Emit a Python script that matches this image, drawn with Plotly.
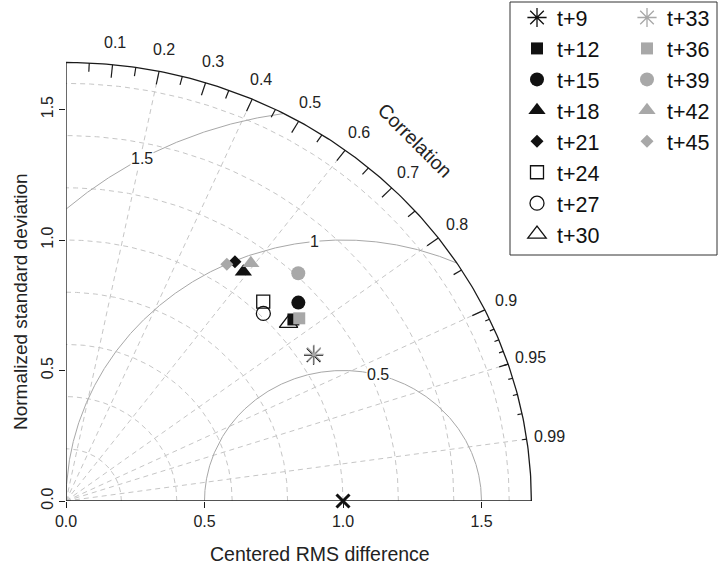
import numpy as np
import plotly.graph_objects as go

# ---------------- data ----------------
labels = ["t+9", "t+12", "t+15", "t+18", "t+21", "t+24", "t+27", "t+30",
          "t+33", "t+36", "t+39", "t+42", "t+45"]
std_dev = [1.054, 1.076, 1.132, 1.087, 1.101, 1.044, 1.012, 1.053,
           1.057, 1.095, 1.210, 1.129, 1.077]
correlation = [0.848, 0.763, 0.741, 0.589, 0.554, 0.682, 0.704, 0.763,
               0.847, 0.769, 0.693, 0.591, 0.539]
symbols = ["asterisk-open", "square", "circle", "triangle-up", "diamond",
           "square-open", "circle-open", "triangle-up-open",
           "asterisk-open", "square", "circle", "triangle-up", "diamond"]
sizes = [16, 12, 14, 15, 10, 13, 14, 16, 16, 12, 14, 15, 10]
colors = ["#111111"] * 8 + ["#a8a8a8"] * 5

ref_sd = 1.0
max_ray = 1.68
sd_arcs = [0.2, 0.4, 0.6, 0.8, 1.0, 1.2, 1.4, 1.6]
corr_lines = [0.2, 0.4, 0.6, 0.8, 0.9, 0.95, 0.99]
gamma_vals = [0.5, 1.0, 1.5]
gamma_text = ["0.5", "1", "1.5"]
gamma_label_deg = [75.5, 96.0, 119.0]
corr_label_vals = [0.1, 0.2, 0.3, 0.4, 0.5, 0.6, 0.7, 0.8, 0.9, 0.95, 0.99]
corr_label_text = ["0.1", "0.2", "0.3", "0.4", "0.5", "0.6", "0.7", "0.8", "0.9", "0.95", "0.99"]
axis_ticks = [0.0, 0.5, 1.0, 1.5]
axis_tick_text = ["0.0", "0.5", "1.0", "1.5"]

# ---------------- geometry ----------------
W, H = 720, 568
ML, MR, MT, MB = 66, 170, 44, 67
PW, PH = W - ML - MR, H - MT - MB
XS, YS = 277.0, 261.0   # px per unit
xr = PW / XS
yr = PH / YS

def px(xd):
    return xd * XS / PW

def py(yd):
    return yd * YS / PH

FONT = "Liberation Sans, Arial, Helvetica, sans-serif"
fig = go.Figure()

def add_line(xs, ys, color, width, dash="solid"):
    fig.add_trace(go.Scatter(x=xs, y=ys, mode="lines", showlegend=False,
                             hoverinfo="skip",
                             line=dict(color=color, width=width, dash=dash)))

# sd arcs (dashed)
t = np.linspace(0, np.pi / 2, 200)
xs, ys = [], []
for r in sd_arcs:
    xs += list(r * np.cos(t)) + [None]
    ys += list(r * np.sin(t)) + [None]
add_line(xs, ys, "#c6c6c6", 1, "5px,4px")

# correlation radial lines (dashed)
xs, ys = [], []
for c in corr_lines:
    a = np.arccos(c)
    xs += [0, max_ray * np.cos(a), None]
    ys += [0, max_ray * np.sin(a), None]
add_line(xs, ys, "#c6c6c6", 1, "5px,4px")

# gamma (centered RMS) arcs
tt = np.linspace(0, np.pi, 2000)
xs, ys = [], []
for g in gamma_vals:
    gx = ref_sd + g * np.cos(tt)
    gy = g * np.sin(tt)
    ok = (gx >= 0) & (gx ** 2 + gy ** 2 <= max_ray ** 2)
    xs += [float(v) if k else None for v, k in zip(gx, ok)] + [None]
    ys += [float(v) if k else None for v, k in zip(gy, ok)] + [None]
add_line(xs, ys, "#a8a8a8", 1)

# outer arc
add_line(list(max_ray * np.cos(t)), list(max_ray * np.sin(t)), "#1a1a1a", 1.3)
# axes lines
add_line([0, max_ray], [0, 0], "#1a1a1a", 1.3)
add_line([0, 0], [0, max_ray], "#1a1a1a", 1.3)

# correlation ticks on outer arc
xs, ys = [], []
for vals, frac in [(np.arange(1, 10) / 10, 0.97),
                   (np.arange(0.05, 1.0, 0.1), 0.98),
                   (np.arange(91, 100) / 100, 0.99)]:
    for c in vals:
        a = np.arccos(c)
        xs += [max_ray * np.cos(a), frac * max_ray * np.cos(a), None]
        ys += [max_ray * np.sin(a), frac * max_ray * np.sin(a), None]
add_line(xs, ys, "#1a1a1a", 1.2)

# reference point
fig.add_trace(go.Scatter(x=[ref_sd], y=[0], mode="markers", showlegend=False,
                         hoverinfo="skip", cliponaxis=False,
                         marker=dict(symbol="x-thin-open", size=13, color="#111111",
                                     line=dict(color="#111111", width=3))))

# model points
for i, lab in enumerate(labels):
    a = np.arccos(correlation[i])
    x = std_dev[i] * np.cos(a)
    y = std_dev[i] * np.sin(a)
    sym = symbols[i]
    openish = sym.endswith("open")
    mk = dict(symbol=sym, size=sizes[i], color=colors[i],
              line=dict(color=colors[i], width=1.3 if openish else 0))
    fig.add_trace(go.Scatter(x=[x], y=[y], mode="markers", name=lab,
                             marker=mk, cliponaxis=False,
                             legend="legend" if i < 8 else "legend2"))

# annotations
ann = []
base = dict(showarrow=False, xanchor="center", yanchor="middle")
for v, s in zip(corr_label_vals, corr_label_text):
    a = np.arccos(v)
    ann.append(dict(x=px(1.05 * max_ray * np.cos(a)), y=py(1.05 * max_ray * np.sin(a)),
                    text=s, xref="paper", yref="paper",
                    font=dict(size=16, color="#222", family=FONT), **base))
for g, s, d in zip(gamma_vals, gamma_text, gamma_label_deg):
    a = np.deg2rad(d)
    ann.append(dict(x=px(ref_sd + g * np.cos(a)), y=py(g * np.sin(a)), text=s,
                    xref="paper", yref="paper", bgcolor="white", borderpad=0,
                    font=dict(size=16, color="#222", family=FONT), **base))
ann.append(dict(x=px(1.26), y=py(1.385), text="Correlation", textangle=45,
                xref="paper", yref="paper",
                font=dict(size=19.5, color="#222", family=FONT), **base))
ann.append(dict(x=(320 - ML) / PW, y=(H - MB - 554) / PH, xref="paper", yref="paper",
                text="Centered RMS difference",
                font=dict(size=19.5, color="#222", family=FONT), **base))
ann.append(dict(x=(20 - ML) / PW, y=(H - MB - 302) / PH, xref="paper", yref="paper",
                text="Normalized standard deviation", textangle=-90,
                font=dict(size=19, color="#222", family=FONT), **base))

# legend box
shapes = [dict(type="rect", xref="paper", yref="paper",
               x0=(510 - ML) / PW, x1=(717 - ML) / PW,
               y0=(H - MB - 255) / PH, y1=(H - MB - 2) / PH,
               line=dict(color="#333", width=1), fillcolor="rgba(0,0,0,0)")]

leg_common = dict(bgcolor="rgba(0,0,0,0)", borderwidth=0,
                  font=dict(size=21.5, color="#111", family=FONT),
                  xanchor="left", yanchor="top", tracegroupgap=0)

fig.update_layout(
    width=W, height=H,
    margin=dict(l=ML, r=MR, t=MT, b=MB, autoexpand=False),
    paper_bgcolor="white", plot_bgcolor="white",
    xaxis=dict(range=[0, xr], showgrid=False, zeroline=False, showline=False,
               ticks="outside", ticklen=6, tickcolor="#1a1a1a", tickwidth=1.2,
               tickvals=axis_ticks, ticktext=axis_tick_text,
               tickfont=dict(size=16, color="#222", family=FONT)),
    yaxis=dict(range=[0, yr], showgrid=False, zeroline=False, showline=False,
               ticks="outside", ticklen=6, tickcolor="#1a1a1a", tickwidth=1.2,
               tickvals=axis_ticks, ticktext=axis_tick_text, tickangle=-90,
               tickfont=dict(size=16, color="#222", family=FONT)),
    legend=dict(x=(517 - ML) / PW, y=(H - MB + 3) / PH, **leg_common),
    legend2=dict(x=(627 - ML) / PW, y=(H - MB + 3) / PH, **leg_common),
    annotations=ann, shapes=shapes,
    font=dict(family=FONT),
)

fig.write_html("out.html")
